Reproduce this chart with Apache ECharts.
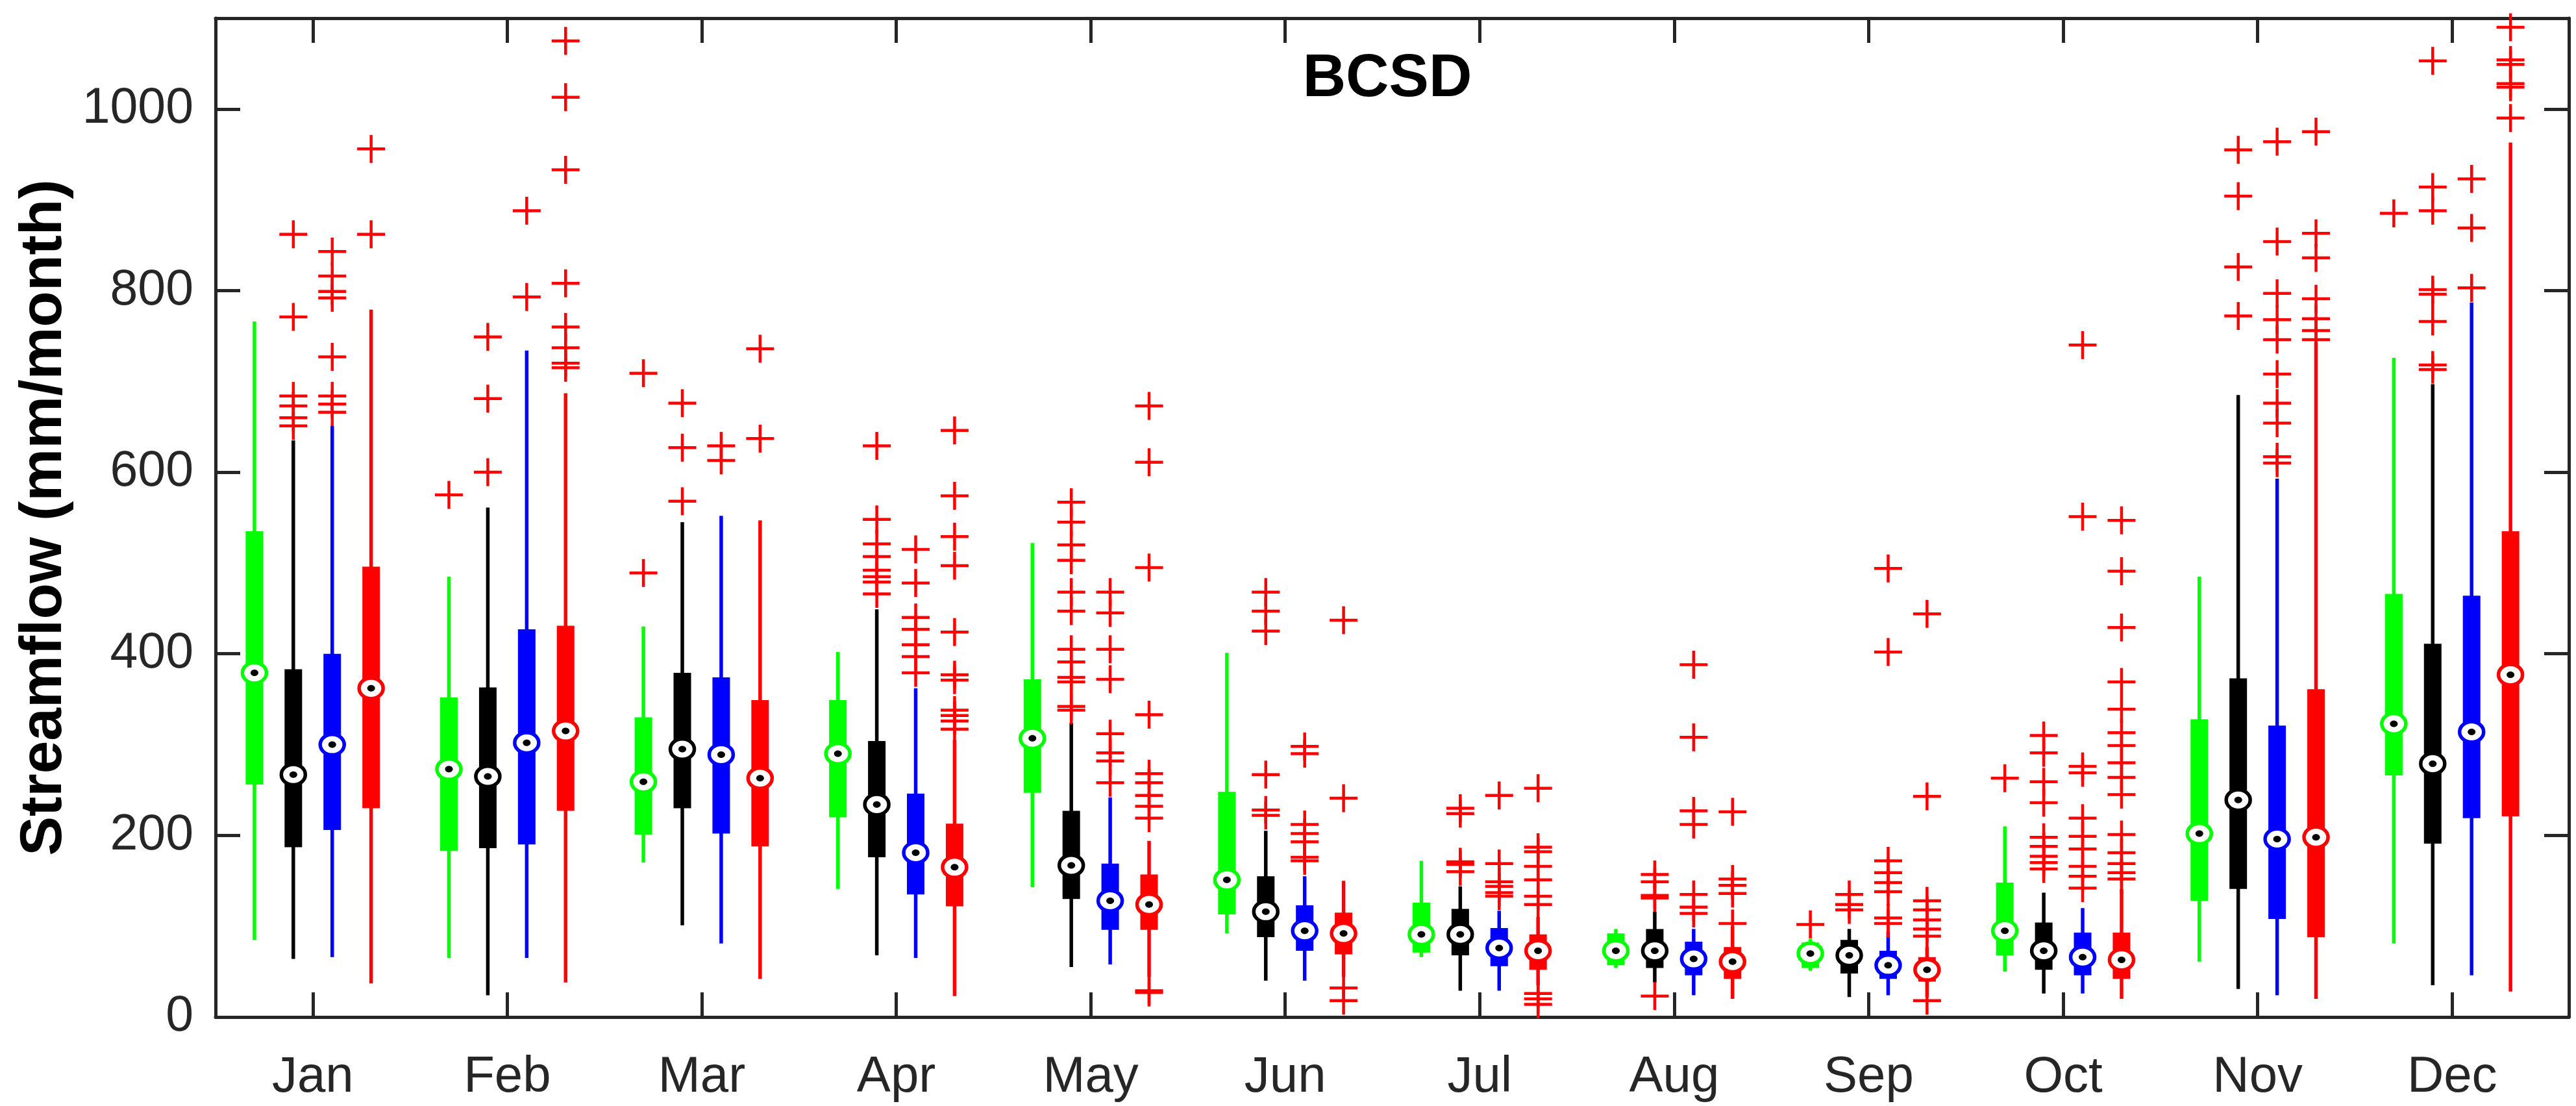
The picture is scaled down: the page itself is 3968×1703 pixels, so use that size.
<!DOCTYPE html>
<html>
<head>
<meta charset="utf-8">
<script src="https://cdn.jsdelivr.net/npm/echarts@6/dist/echarts.min.js"></script>
<style>html,body{margin:0;padding:0;background:#fff}#c{width:3968px;height:1703px}</style>
</head>
<body>
<div id="c"></div>
<script>
const months = ['Jan','Feb','Mar','Apr','May','Jun','Jul','Aug','Sep','Oct','Nov','Dec'];
const yTicks = [0, 200, 400, 600, 800, 1000];

// [lower whisker, Q1, median, Q3, upper whisker] per month
const greenStats = [
  [85,256,379,535,766],[65,183,273,352,485],[170,201,259,330,430],[141,220,290,349,402],
  [143,247,307,372,522],[92,113,151,248,401],[66,71,91,126,172],[54,57,73,92,97],
  [51,54,70,82,86],[50,68,95,148,210],[61,128,202,328,485],[81,266,323,466,726]
];
const blackStats = [
  [64,187,267,383,635],[24,186,265,363,561],[101,230,295,379,545],[68,176,234,304,449],
  [55,130,167,227,324],[40,88,116,155,205],[29,68,91,119,144],[38,54,73,97,116],
  [22,48,68,85,97],[26,52,73,104,137],[31,141,239,373,685],[35,191,279,411,697]
];
const blueStats = [
  [66,206,300,400,651],[65,190,302,427,734],[81,202,289,374,552],[65,135,181,246,362],
  [58,96,128,169,242],[40,73,95,123,155],[29,56,76,98,117],[24,46,64,83,97],
  [24,42,57,73,94],[26,46,66,93,120],[24,108,196,321,593],[46,219,314,464,787]
];
const redStats = [
  [37,230,362,496,779],[38,227,315,431,687],[42,188,263,349,547],[23,122,165,213,305],
  [44,96,124,157,194],[44,69,92,115,150],[35,52,73,91,110],[20,42,61,77,100],
  [22,39,52,66,77],[20,42,63,93,141],[20,88,198,361,743],[28,221,377,535,963]
];

// outliers per month
const greenOutliers = [[],[575],[709,489],[],[],[],[],[],[102],[263],[],[885]];
const blackOutliers = [
  [862,771,684,673,660,651],[749,681,600],[676,627,568],[629,548,521,507,492,485,479,466],
  [567,545,520,503,468,447,405,391,374,369,342,338],[468,447,425,267,228,222],
  [230,224,171,168,160],[157,149,134,131,23],[135,124,118],
  [310,291,259,236,198,188,177,170,163],[955,904,826,772],[1053,914,888,801,796,766,718,713]
];
const blueOutliers = [
  [843,816,799,792,727,684,675,666],[888,793],[629,613],[515,478,440,427,410,397,379],
  [468,445,405,372,312,291,282,258],[298,290,212,202,193,176,172],[244,169,149,144,137,133],
  [388,308,227,212,135,121,114],[494,402,172,159,148,138,109,103],
  [740,551,276,269,219,199,185,166,155,142],[964,854,797,768,746,708,676,654,617,610],[923,869,803]
];
const redOutliers = [
  [956,862],[1075,1013,933,808,760,737,720,715],[736,637],[646,574,529,497,424,377,371,338,332,326,317],
  [673,611,495,333,268,258,244,232,219,29,27],[437,241,32,18],[252,187,182,166,151,133,124,26,20,14],
  [226,152,145,136,103],[444,243,128,118,107,97,89,18],
  [547,491,429,369,339,313,299,280,264,245,201,181,169,159,152],[975,863,836,791,769,756,746],
  [1090,1054,1049,1028,1024,990]
];

const groups = [
  {stats: greenStats, outliers: greenOutliers, color: '#00FF00', offset: -0.3},
  {stats: blackStats, outliers: blackOutliers, color: '#000000', offset: -0.1},
  {stats: blueStats,  outliers: blueOutliers,  color: '#0000FF', offset: 0.1},
  {stats: redStats,   outliers: redOutliers,   color: '#FF0000', offset: 0.3}
];

const AX = '#262626';
const FONT = '"Liberation Sans", Arial, Helvetica, sans-serif';

function boxRender(params, api) {
  const x = api.value(0);
  const lo = api.coord([x, api.value(1)]);
  const q1 = api.coord([x, api.value(2)]);
  const md = api.coord([x, api.value(3)]);
  const q3 = api.coord([x, api.value(4)]);
  const hi = api.coord([x, api.value(5)]);
  const color = api.visual('color');
  const bw = 27;
  return {
    type: 'group',
    children: [
      {type: 'line', shape: {x1: lo[0], y1: lo[1], x2: hi[0], y2: hi[1]}, style: {stroke: color, lineWidth: 5.5}},
      {type: 'rect', shape: {x: q3[0] - bw / 2, y: q3[1], width: bw, height: q1[1] - q3[1]}, style: {fill: color}},
      {type: 'ellipse', shape: {cx: md[0], cy: md[1], rx: 18.5, ry: 15.8}, style: {fill: '#fff', stroke: color, lineWidth: 5.5}},
      {type: 'ellipse', shape: {cx: md[0], cy: md[1], rx: 6, ry: 5}, style: {fill: '#000'}}
    ]
  };
}

function plusRender(params, api) {
  const p = api.coord([api.value(0), api.value(1)]);
  const h = 21.5;
  return {
    type: 'group',
    children: [
      {type: 'line', shape: {x1: p[0] - h, y1: p[1], x2: p[0] + h, y2: p[1]}, style: {stroke: '#FF0000', lineWidth: 4.5}},
      {type: 'line', shape: {x1: p[0], y1: p[1] - h, x2: p[0], y2: p[1] + h}, style: {stroke: '#FF0000', lineWidth: 4.5}}
    ]
  };
}

const series = [];
groups.forEach(g => {
  series.push({
    type: 'custom',
    renderItem: boxRender,
    itemStyle: {color: g.color},
    encode: {x: 0, y: [1, 2, 3, 4, 5]},
    data: g.stats.map((s, i) => [i + 1 + g.offset].concat(s)),
    z: 2,
    animation: false
  });
});
groups.forEach(g => {
  const pts = [];
  g.outliers.forEach((arr, i) => arr.forEach(v => pts.push([i + 1 + g.offset, v])));
  series.push({
    type: 'custom',
    renderItem: plusRender,
    encode: {x: 0, y: 1},
    data: pts,
    z: 3,
    animation: false
  });
});

const monthVals = months.map((m, i) => i + 1);

const xBase = {
  type: 'value', min: 0.5, max: 12.6,
  axisLine: {show: true, onZero: false, lineStyle: {color: AX, width: 5}},
  axisTick: {show: true, inside: true, length: 38, customValues: monthVals, lineStyle: {color: AX, width: 5}},
  splitLine: {show: false}
};
const yBase = {
  type: 'value', min: 0, max: 1100,
  axisLine: {show: true, onZero: false, lineStyle: {color: AX, width: 5}},
  axisTick: {show: true, inside: true, length: 38, customValues: yTicks, lineStyle: {color: AX, width: 5}},
  splitLine: {show: false}
};

const chart = echarts.init(document.getElementById('c'), null, {renderer: 'canvas'});
chart.setOption({
  animation: false,
  backgroundColor: '#fff',
  title: {
    text: 'BCSD', left: 2132, top: 72, textAlign: 'center',
    textStyle: {fontFamily: FONT, fontSize: 92, fontWeight: 'bold', color: '#000'}
  },
  grid: {left: 332, right: 11, top: 28, bottom: 137, containLabel: false},
  xAxis: [
    Object.assign({}, xBase, {
      position: 'bottom',
      axisLabel: {show: true, customValues: monthVals, margin: 54, color: AX, fontSize: 78, fontFamily: FONT,
        formatter: v => months[Math.round(v) - 1]}
    }),
    Object.assign({}, xBase, {position: 'top', axisLabel: {show: false}})
  ],
  yAxis: [
    Object.assign({}, yBase, {
      position: 'left',
      name: 'Streamflow (mm/month)', nameLocation: 'middle', nameGap: 218,
      nameTextStyle: {fontFamily: FONT, fontSize: 91, fontWeight: 'bold', color: '#000'},
      axisLabel: {show: true, customValues: yTicks, margin: 34, color: AX, fontSize: 77, fontFamily: FONT,
        formatter: v => String(v)}
    }),
    Object.assign({}, yBase, {position: 'right', axisLabel: {show: false}})
  ],
  series: series
});
</script>
</body>
</html>
